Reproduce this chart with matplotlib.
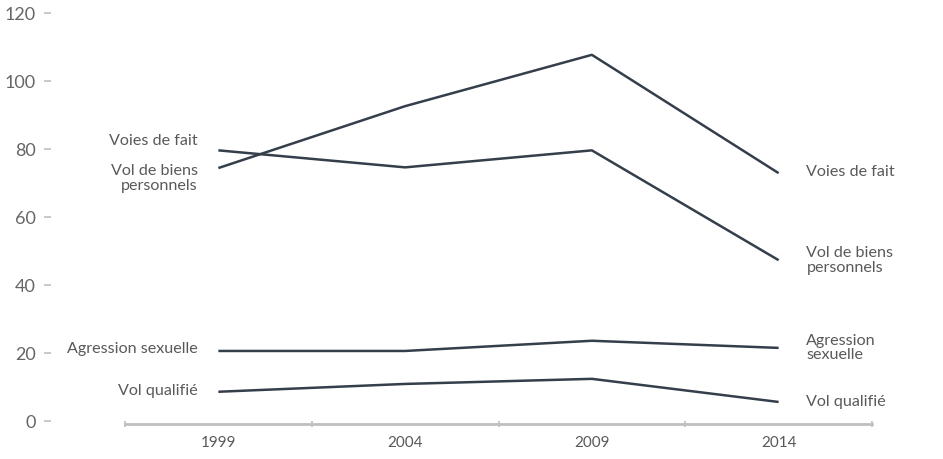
import matplotlib.pyplot as plt

years = ['1999', '2004', '2009', '2014']
voies_de_fait = [74.4, 92.6, 107.7, 72.9]
vol_biens = [79.6, 74.6, 79.6, 47.3]
agression = [20.6, 20.6, 23.6, 21.5]
vol_qualifie = [8.6, 10.9, 12.4, 5.6]

series = [voies_de_fait, vol_biens, agression, vol_qualifie]

# label text, label height
left_labels = [('Voies de fait', 82.3), ('Vol de biens\npersonnels', 71.4),
               ('Agression sexuelle', 21.2), ('Vol qualifié', 8.8)]
right_labels = [('Voies de fait', 73.2), ('Vol de biens\npersonnels', 47.2),
                ('Agression\nsexuelle', 21.5), ('Vol qualifié', 5.6)]

plt.rcParams['font.family'] = ['Lato', 'DejaVu Sans']

fig = plt.figure(figsize=(9.43, 4.59), dpi=100)
ax = fig.add_axes([125 / 943, 1 - 421 / 459, (872 - 125) / 943, (421 - 13) / 459])

line_color = '#353e4b'
text_color = '#595959'
x = range(len(years))
for vals in series:
    ax.plot(x, vals, color=line_color, lw=1.8, solid_capstyle='butt')

for text, y in left_labels:
    ax.annotate(text, xy=(0, y), xytext=(-15, 0), textcoords='offset points',
                ha='right', va='center', fontsize=11.6, color=text_color,
                linespacing=1.05)
for text, y in right_labels:
    ax.annotate(text, xy=(3, y), xytext=(20, 0), textcoords='offset points',
                ha='left', va='center', fontsize=11.6, color=text_color,
                linespacing=1.05)

ax.set_xlim(-0.5, 3.5)
ax.set_ylim(0, 120)
ax.set_xticks([-0.5, 0.5, 1.5, 2.5, 3.5])
ax.set_xticklabels([])
ax.set_xticks(list(x), minor=True)
ax.set_xticklabels(years, minor=True)
ax.tick_params(axis='x', which='major', direction='inout', length=5,
               color='#bfbfbf', width=1.2)
ax.tick_params(axis='x', which='minor', length=0, pad=9, labelsize=11,
               labelcolor=text_color)

ax.set_yticks([0, 20, 40, 60, 80, 100, 120])
ax.spines['left'].set_position(('outward', 58))
ax.spines['left'].set_visible(False)
ax.tick_params(axis='y', direction='in', length=5, color='#bfbfbf', width=1.2,
               pad=6, labelsize=13, labelcolor='#666666')

for s in ['top', 'right']:
    ax.spines[s].set_visible(False)
ax.spines['bottom'].set_color('#bfbfbf')
ax.spines['bottom'].set_linewidth(2)
ax.spines['bottom'].set_position(('outward', 2))

fig.savefig('out.png', dpi=100)
